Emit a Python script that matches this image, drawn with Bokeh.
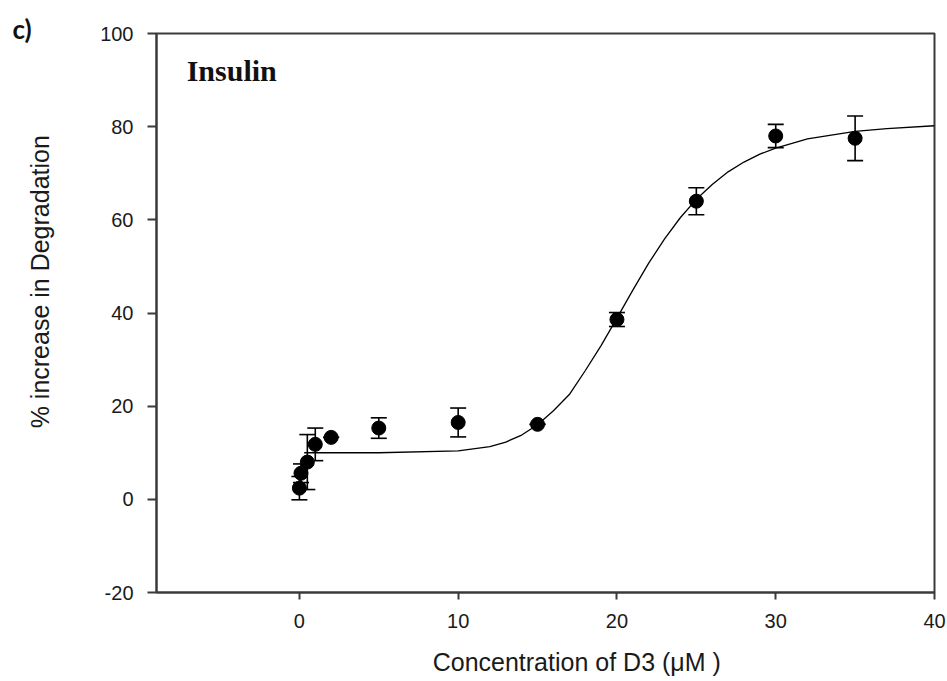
from bokeh.plotting import figure
from bokeh.models import (ColumnDataSource, Whisker, TeeHead, Label, FixedTicker, Range1d, Title)
from bokeh.embed import file_html
from bokeh.resources import INLINE

# ---- data ----
conc = [0, 0.1, 0.5, 1, 2, 5, 10, 15, 20, 25, 30, 35]
degradation = [2.4, 5.6, 8.0, 11.8, 13.3, 15.3, 16.5, 16.1, 38.6, 64.0, 78.0, 77.5]
error = [2.5, 2.0, 5.9, 3.5, 0.0, 2.2, 3.1, 0.0, 1.5, 2.9, 2.5, 4.8]

# fitted curve
curve_x = [0.3, 1, 5, 10, 12, 13, 14, 15, 16, 17, 18, 19, 20, 21, 22, 23, 24, 25,
           26, 27, 28, 29, 30, 32, 35, 37, 40]
curve_y = [10.0, 10.0, 10.0, 10.4, 11.3, 12.3, 13.8, 16.0, 19.0, 22.5, 27.6, 33.0,
           38.9, 44.9, 50.7, 55.9, 60.5, 64.4, 67.6, 70.3, 72.4, 74.1, 75.4, 77.4,
           79.0, 79.6, 80.2]

x_ticks = [0, 10, 20, 30, 40]
y_ticks = [-20, 0, 20, 40, 60, 80, 100]

panel_tag = "c)"
title_text = "Insulin"
x_title = "Concentration of D3 (\u03bcM )"
y_title = "% increase in Degradation"
NBSP = "\u00a0"

# ---- figure ----
p = figure(width=947, height=681, x_range=Range1d(-9, 40), y_range=Range1d(-20, 100),
           output_backend="svg", toolbar_location=None,
           min_border_left=156, min_border_right=13, min_border_top=33, min_border_bottom=89)
p.background_fill_color = "white"
p.border_fill_color = "white"
p.xgrid.visible = False
p.ygrid.visible = False
p.outline_line_color = "#3a3a3a"
p.outline_line_width = 2

axis_col = "#3a3a3a"
for ax in (p.xaxis[0], p.yaxis[0]):
    ax.axis_line_color = axis_col
    ax.axis_line_width = 2
    ax.major_tick_line_color = axis_col
    ax.major_tick_line_width = 2
    ax.major_tick_in = 0
    ax.minor_tick_line_color = None
    ax.major_label_text_font = "Liberation Sans"
    ax.major_label_text_font_size = "20px"
    ax.major_label_text_color = "#1a1a1a"
    ax.axis_label_text_font = "Liberation Sans"
    ax.axis_label_text_font_size = "25px"
    ax.axis_label_text_font_style = "normal"
    ax.axis_label_text_color = "#1a1a1a"

p.xaxis.ticker = FixedTicker(ticks=x_ticks)
p.yaxis.ticker = FixedTicker(ticks=y_ticks)
p.yaxis.major_label_overrides = {t: str(t) for t in y_ticks}
p.xaxis.major_label_overrides = {t: str(t) for t in x_ticks}
p.xaxis.major_tick_out = 7
p.yaxis.major_tick_out = 9
p.xaxis.major_label_standoff = 14
p.yaxis.major_label_standoff = 14

# axis titles, shifted off-centre as in the original with leading no-break spaces
p.xaxis.axis_label = NBSP * 9 + x_title
p.yaxis.axis_label = NBSP * 9 + y_title
p.xaxis.axis_label_standoff = 17
p.yaxis.axis_label_standoff = 43

src = ColumnDataSource(dict(
    x=conc, y=degradation,
    upper=[m + e for m, e in zip(degradation, error)],
    lower=[m - e for m, e in zip(degradation, error)],
))

p.line(curve_x, curve_y, line_color="black", line_width=1.3)

wh = Whisker(source=src, base="x", upper="upper", lower="lower", dimension="height",
             line_color="black", line_width=1.6,
             upper_head=TeeHead(size=16, line_color="black", line_width=1.6),
             lower_head=TeeHead(size=16, line_color="black", line_width=1.6))
wh.level = "underlay"
p.add_layout(wh)

p.scatter("x", "y", source=src, size=14, color="black")

# texts
p.add_layout(Label(x=-7.1, y=92, text=title_text, text_font="Liberation Serif",
                   text_font_style="bold", text_font_size="30px", text_color="#111111",
                   text_align="left", text_baseline="middle"))
p.add_layout(Title(text=panel_tag, align="left", offset=-144, vertical_align="bottom",
                   standoff=-22, text_font="Lato", text_font_style="bold",
                   text_font_size="26px", text_color="#111111"), "above")

open("out.html", "w").write(file_html(p, INLINE))
